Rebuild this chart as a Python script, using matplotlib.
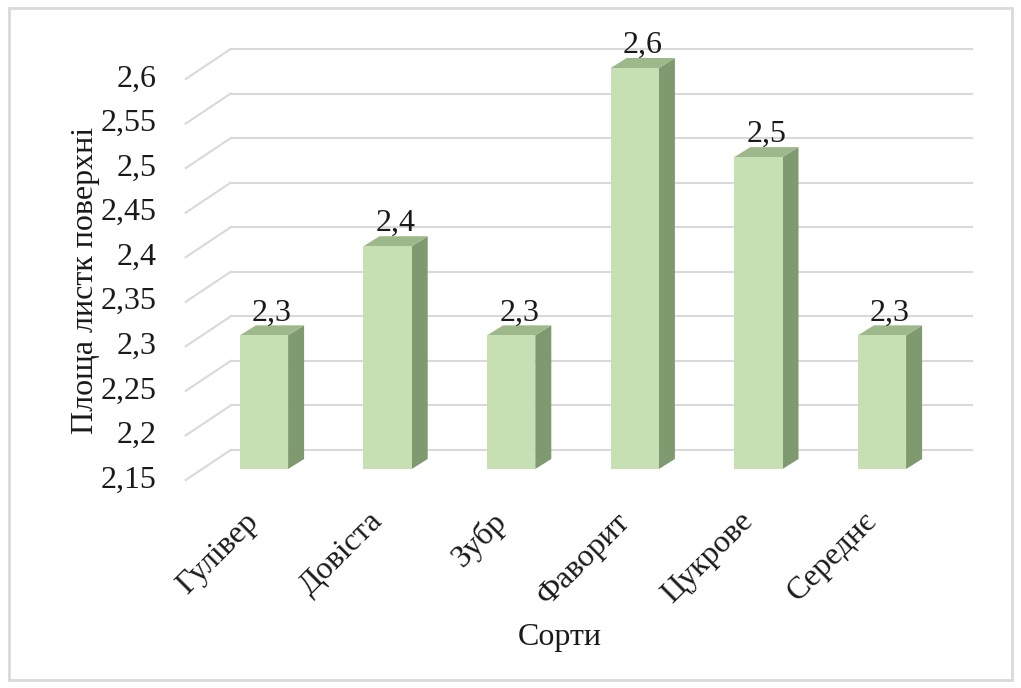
import matplotlib.pyplot as plt
from matplotlib.patches import Polygon, Rectangle
from matplotlib.transforms import offset_copy

# Data
varieties = ["Гулівер", "Довіста", "Зубр", "Фаворит", "Цукрове", "Середнє"]
leaf_area = [2.3, 2.4, 2.3, 2.6, 2.5, 2.3]
y_ticks = [2.15, 2.2, 2.25, 2.3, 2.35, 2.4, 2.45, 2.5, 2.55, 2.6]
y_base = 2.15

plt.rcParams['font.family'] = ['Liberation Serif', 'DejaVu Serif']
FS = 23
txt_col = '#1a1a1a'

front_col = '#c6e0b4'
top_col = '#9db98b'
side_col = '#7f9a6e'
grid_col = '#d9d9d9'

fig = plt.figure(figsize=(10.21, 6.88), dpi=100)
W, H = 1021, 688

# axes placed so bar fronts sit in their own plane
left, right = 202.2, 943.8
top, bottom = 68, 469
ax = fig.add_axes([left / W, (H - bottom) / H, (right - left) / W, (bottom - top) / H])
ax.set_xlim(-0.5, len(varieties) - 0.5)
ax.set_ylim(y_base, max(y_ticks))
ax.axis('off')

# pixel offsets of back wall and front floor edge relative to the bar plane
back = offset_copy(ax.transData, fig, x=28.5, y=19, units='dots')
front = offset_copy(ax.transData, fig, x=-16.5, y=-11, units='dots')

x0, x1 = -0.5, len(varieties) - 0.5
for v in y_ticks:
    # back wall gridline
    ax.plot([x0, x1], [v, v], color=grid_col, lw=1.5, transform=back, clip_on=False, zorder=1)
    # side wall diagonal
    bx, by = back.transform((x0, v))
    fx, fy = front.transform((x0, v))
    fig.add_artist(plt.Line2D([bx / W, fx / W], [by / H, fy / H], color=grid_col, lw=1.5,
                              transform=fig.transFigure, zorder=1))
    label = f"{v:g}".replace('.', ',')
    fig.text((fx - 29) / W, fy / H, label, ha='right', va='center', fontsize=FS, color=txt_col)

# bars with depth
bw = 0.39
px_x = (right - left) / (x1 - x0)
px_y = (bottom - top) / (max(y_ticks) - y_base)
dx = 16 / px_x
dy = 10 / px_y
xs = list(range(len(varieties)))
ax.bar(xs, [v - y_base for v in leaf_area], bottom=y_base, width=bw,
       color=front_col, edgecolor='none', zorder=3, clip_on=False)
for x, v in zip(xs, leaf_area):
    xl, xr = x - bw / 2, x + bw / 2
    side = Polygon([(xr, y_base), (xr, v), (xr + dx, v + dy), (xr + dx, y_base + dy)],
                   closed=True, facecolor=side_col, edgecolor='none', zorder=2, clip_on=False)
    topf = Polygon([(xl, v), (xr, v), (xr + dx, v + dy), (xl + dx, v + dy)],
                   closed=True, facecolor=top_col, edgecolor='none', zorder=2, clip_on=False)
    ax.add_patch(side)
    ax.add_patch(topf)
    ax.text(x + dx / 2, v, f"{v:.1f}".replace('.', ','), ha='center', va='bottom',
            fontsize=FS, color=txt_col,
            transform=offset_copy(ax.transData, fig, x=0, y=8, units='dots'))

# category labels
lab_tr = offset_copy(ax.transData, fig, x=-20, y=-38, units='dots')
for x, name in zip(xs, varieties):
    ax.text(x, y_base, name, rotation=45, ha='right', va='top', rotation_mode='anchor',
            fontsize=FS, color=txt_col, transform=lab_tr)

fig.text(560 / W, (H - 637) / H, "Сорти", ha='center', va='center', fontsize=FS, color=txt_col)
fig.text(85 / W, (H - 280) / H, "Площа листк поверхні", ha='center', va='center',
         rotation=90, fontsize=FS, color=txt_col)

# outer chart frame
fig.add_artist(Rectangle((9 / W, 8 / H), 1003 / W, 672 / H, transform=fig.transFigure,
                         fill=False, edgecolor=grid_col, lw=2))

fig.savefig('out.png', dpi=100)
